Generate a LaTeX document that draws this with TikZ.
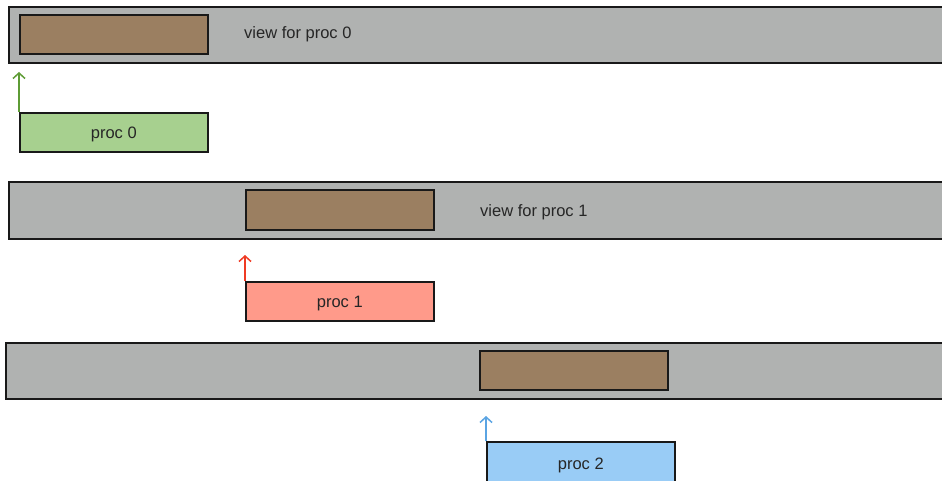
\documentclass[tikz,border=0pt]{standalone}
\usepackage{fontspec}
\setmainfont{Liberation Sans}
\usepackage{xcolor}
\usepackage{tikz}
\usetikzlibrary{arrows.meta}
\definecolor{viewgray}{HTML}{B0B2B1}
\definecolor{chunkbrown}{HTML}{9B7F61}
\definecolor{procgreen}{HTML}{A7D08F}
\definecolor{procred}{HTML}{FF9A8A}
\definecolor{procblue}{HTML}{99CCF6}
\definecolor{arrgreen}{HTML}{5E9C35}
\definecolor{arrred}{HTML}{EF3B24}
\definecolor{arrblue}{HTML}{5AA4E3}

\begin{document}
\begin{tikzpicture}[x=1pt,y=-1pt,
  every node/.style={font=\fontsize{16.5}{19}\selectfont,text=black!85,inner sep=0pt},
  viewbar/.style={draw=black!90,line width=1.6pt,fill=viewgray,anchor=north west,
    minimum width=960pt,minimum height=56pt},
  chunk/.style={draw=black!90,line width=1.6pt,fill=chunkbrown,anchor=north west,
    minimum width=188pt,minimum height=39pt},
  procbox/.style={draw=black!90,line width=1.6pt,fill=#1,anchor=north west,
    minimum width=188pt,minimum height=39pt,text depth=0pt,text height=12pt},
  offset/.style={draw=#1,line width=1.5pt,-{Straight Barb[length=5.5pt,width=12pt]}}]
  \path[use as bounding box,clip] (0,0) rectangle (942,481);
  % proc 0
  \node[viewbar] (view0) at (8,6) {};
  \node[chunk] (chunk0) at (19,14) {};
  \node[anchor=base west] (label0) at (244,39) {view for proc 0};
  \node[procbox=procgreen] (proc0) at (19,112) {proc 0};
  \coordinate (tip0) at (19,72);
  \draw[offset=arrgreen] (proc0.north west) -- (tip0);
  % proc 1
  \node[viewbar,minimum height=57pt] (view1) at (8,181) {};
  \node[chunk,minimum height=40pt] (chunk1) at (245,189) {};
  \node[anchor=base west] (label1) at (480,216) {view for proc 1};
  \node[procbox=procred] (proc1) at (245,281) {proc 1};
  \coordinate (tip1) at (245,255);
  \draw[offset=arrred] (proc1.north west) -- (tip1);
  % proc 2
  \node[viewbar] (view2) at (5,342) {};
  \node[chunk] (chunk2) at (479,350) {};
  \node[procbox=procblue,minimum height=43pt] (proc2) at (486,441) {proc 2};
  \coordinate (tip2) at (486,416);
  \draw[offset=arrblue] (proc2.north west) -- (tip2);
\end{tikzpicture}
\end{document}
